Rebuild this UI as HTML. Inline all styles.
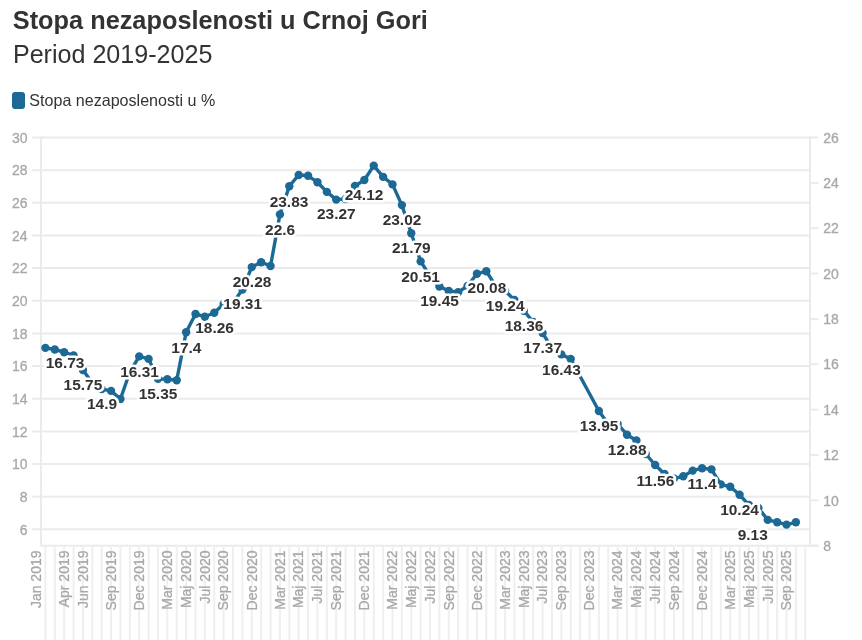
<!DOCTYPE html><html><head><meta charset="utf-8"><style>
html,body{margin:0;padding:0;background:#fff;width:862px;height:640px;overflow:hidden}
svg{display:block;font-family:"Liberation Sans",sans-serif;will-change:transform}
.ax{fill:#a8a8a8;font-size:14px;stroke:#a8a8a8;stroke-width:0.3px}
.vl{fill:#333333;font-size:14px;font-weight:bold;stroke:#fff;stroke-width:5px;paint-order:stroke fill;stroke-linejoin:round}
</style></head><body>
<svg width="862" height="640" viewBox="0 0 862 640">
<text x="12.8" y="28.8" font-size="26" font-weight="bold" fill="#333333" textLength="415" lengthAdjust="spacingAndGlyphs">Stopa nezaposlenosti u Crnoj Gori</text>
<text x="12.9" y="62.5" font-size="25" fill="#333333" textLength="199.5" lengthAdjust="spacingAndGlyphs">Period 2019-2025</text>
<rect x="12" y="92" width="13" height="17" rx="3" ry="3" fill="#1d6996"/>
<text x="29.3" y="105.8" font-size="16.5" fill="#333333" textLength="186" lengthAdjust="spacingAndGlyphs">Stopa nezaposlenosti u %</text>
<g stroke="#ebebeb" stroke-width="2"><line x1="32" y1="529.37" x2="810" y2="529.37"/><line x1="32" y1="496.72" x2="810" y2="496.72"/><line x1="32" y1="464.06" x2="810" y2="464.06"/><line x1="32" y1="431.40" x2="810" y2="431.40"/><line x1="32" y1="398.75" x2="810" y2="398.75"/><line x1="32" y1="366.09" x2="810" y2="366.09"/><line x1="32" y1="333.44" x2="810" y2="333.44"/><line x1="32" y1="300.78" x2="810" y2="300.78"/><line x1="32" y1="268.12" x2="810" y2="268.12"/><line x1="32" y1="235.47" x2="810" y2="235.47"/><line x1="32" y1="202.81" x2="810" y2="202.81"/><line x1="32" y1="170.16" x2="810" y2="170.16"/><line x1="32" y1="137.50" x2="810" y2="137.50"/><line x1="810" y1="545.70" x2="818.5" y2="545.70"/><line x1="810" y1="500.34" x2="818.5" y2="500.34"/><line x1="810" y1="454.99" x2="818.5" y2="454.99"/><line x1="810" y1="409.63" x2="818.5" y2="409.63"/><line x1="810" y1="364.28" x2="818.5" y2="364.28"/><line x1="810" y1="318.92" x2="818.5" y2="318.92"/><line x1="810" y1="273.57" x2="818.5" y2="273.57"/><line x1="810" y1="228.21" x2="818.5" y2="228.21"/><line x1="810" y1="182.86" x2="818.5" y2="182.86"/><line x1="810" y1="137.50" x2="818.5" y2="137.50"/><line x1="41.0" y1="136.5" x2="41.0" y2="545.7"/><line x1="810.0" y1="136.5" x2="810.0" y2="545.7"/><line x1="40.5" y1="545.7" x2="818.5" y2="545.7"/></g>
<g stroke="#efefef" stroke-width="2"><line x1="45.40" y1="546.7" x2="45.40" y2="640"/><line x1="54.78" y1="546.7" x2="54.78" y2="640"/><line x1="64.16" y1="546.7" x2="64.16" y2="640"/><line x1="73.54" y1="546.7" x2="73.54" y2="640"/><line x1="82.92" y1="546.7" x2="82.92" y2="640"/><line x1="92.31" y1="546.7" x2="92.31" y2="640"/><line x1="101.69" y1="546.7" x2="101.69" y2="640"/><line x1="111.07" y1="546.7" x2="111.07" y2="640"/><line x1="120.45" y1="546.7" x2="120.45" y2="640"/><line x1="129.83" y1="546.7" x2="129.83" y2="640"/><line x1="139.21" y1="546.7" x2="139.21" y2="640"/><line x1="148.59" y1="546.7" x2="148.59" y2="640"/><line x1="157.97" y1="546.7" x2="157.97" y2="640"/><line x1="167.35" y1="546.7" x2="167.35" y2="640"/><line x1="176.73" y1="546.7" x2="176.73" y2="640"/><line x1="186.12" y1="546.7" x2="186.12" y2="640"/><line x1="195.50" y1="546.7" x2="195.50" y2="640"/><line x1="204.88" y1="546.7" x2="204.88" y2="640"/><line x1="214.26" y1="546.7" x2="214.26" y2="640"/><line x1="223.64" y1="546.7" x2="223.64" y2="640"/><line x1="233.02" y1="546.7" x2="233.02" y2="640"/><line x1="242.40" y1="546.7" x2="242.40" y2="640"/><line x1="251.78" y1="546.7" x2="251.78" y2="640"/><line x1="261.16" y1="546.7" x2="261.16" y2="640"/><line x1="270.54" y1="546.7" x2="270.54" y2="640"/><line x1="279.93" y1="546.7" x2="279.93" y2="640"/><line x1="289.31" y1="546.7" x2="289.31" y2="640"/><line x1="298.69" y1="546.7" x2="298.69" y2="640"/><line x1="308.07" y1="546.7" x2="308.07" y2="640"/><line x1="317.45" y1="546.7" x2="317.45" y2="640"/><line x1="326.83" y1="546.7" x2="326.83" y2="640"/><line x1="336.21" y1="546.7" x2="336.21" y2="640"/><line x1="345.59" y1="546.7" x2="345.59" y2="640"/><line x1="354.97" y1="546.7" x2="354.97" y2="640"/><line x1="364.35" y1="546.7" x2="364.35" y2="640"/><line x1="373.74" y1="546.7" x2="373.74" y2="640"/><line x1="383.12" y1="546.7" x2="383.12" y2="640"/><line x1="392.50" y1="546.7" x2="392.50" y2="640"/><line x1="401.88" y1="546.7" x2="401.88" y2="640"/><line x1="411.26" y1="546.7" x2="411.26" y2="640"/><line x1="420.64" y1="546.7" x2="420.64" y2="640"/><line x1="430.02" y1="546.7" x2="430.02" y2="640"/><line x1="439.40" y1="546.7" x2="439.40" y2="640"/><line x1="448.78" y1="546.7" x2="448.78" y2="640"/><line x1="458.16" y1="546.7" x2="458.16" y2="640"/><line x1="467.54" y1="546.7" x2="467.54" y2="640"/><line x1="476.93" y1="546.7" x2="476.93" y2="640"/><line x1="486.31" y1="546.7" x2="486.31" y2="640"/><line x1="495.69" y1="546.7" x2="495.69" y2="640"/><line x1="505.07" y1="546.7" x2="505.07" y2="640"/><line x1="514.45" y1="546.7" x2="514.45" y2="640"/><line x1="523.83" y1="546.7" x2="523.83" y2="640"/><line x1="533.21" y1="546.7" x2="533.21" y2="640"/><line x1="542.59" y1="546.7" x2="542.59" y2="640"/><line x1="551.97" y1="546.7" x2="551.97" y2="640"/><line x1="561.36" y1="546.7" x2="561.36" y2="640"/><line x1="570.74" y1="546.7" x2="570.74" y2="640"/><line x1="580.12" y1="546.7" x2="580.12" y2="640"/><line x1="589.50" y1="546.7" x2="589.50" y2="640"/><line x1="598.88" y1="546.7" x2="598.88" y2="640"/><line x1="608.26" y1="546.7" x2="608.26" y2="640"/><line x1="617.64" y1="546.7" x2="617.64" y2="640"/><line x1="627.02" y1="546.7" x2="627.02" y2="640"/><line x1="636.40" y1="546.7" x2="636.40" y2="640"/><line x1="645.78" y1="546.7" x2="645.78" y2="640"/><line x1="655.16" y1="546.7" x2="655.16" y2="640"/><line x1="664.55" y1="546.7" x2="664.55" y2="640"/><line x1="673.93" y1="546.7" x2="673.93" y2="640"/><line x1="683.31" y1="546.7" x2="683.31" y2="640"/><line x1="692.69" y1="546.7" x2="692.69" y2="640"/><line x1="702.07" y1="546.7" x2="702.07" y2="640"/><line x1="711.45" y1="546.7" x2="711.45" y2="640"/><line x1="720.83" y1="546.7" x2="720.83" y2="640"/><line x1="730.21" y1="546.7" x2="730.21" y2="640"/><line x1="739.59" y1="546.7" x2="739.59" y2="640"/><line x1="748.98" y1="546.7" x2="748.98" y2="640"/><line x1="758.36" y1="546.7" x2="758.36" y2="640"/><line x1="767.74" y1="546.7" x2="767.74" y2="640"/><line x1="777.12" y1="546.7" x2="777.12" y2="640"/><line x1="786.50" y1="546.7" x2="786.50" y2="640"/><line x1="795.88" y1="546.7" x2="795.88" y2="640"/><line x1="805.26" y1="546.7" x2="805.26" y2="640"/></g>
<g class="ax"><text x="27.5" y="534.57" text-anchor="end">6</text><text x="27.5" y="501.92" text-anchor="end">8</text><text x="27.5" y="469.26" text-anchor="end">10</text><text x="27.5" y="436.60" text-anchor="end">12</text><text x="27.5" y="403.95" text-anchor="end">14</text><text x="27.5" y="371.29" text-anchor="end">16</text><text x="27.5" y="338.64" text-anchor="end">18</text><text x="27.5" y="305.98" text-anchor="end">20</text><text x="27.5" y="273.32" text-anchor="end">22</text><text x="27.5" y="240.67" text-anchor="end">24</text><text x="27.5" y="208.01" text-anchor="end">26</text><text x="27.5" y="175.36" text-anchor="end">28</text><text x="27.5" y="142.70" text-anchor="end">30</text><text x="823.3" y="550.90">8</text><text x="823.3" y="505.54">10</text><text x="823.3" y="460.19">12</text><text x="823.3" y="414.83">14</text><text x="823.3" y="369.48">16</text><text x="823.3" y="324.12">18</text><text x="823.3" y="278.77">20</text><text x="823.3" y="233.41">22</text><text x="823.3" y="188.06">24</text><text x="823.3" y="142.70">26</text><text transform="translate(40.80,550.5) rotate(-90)" text-anchor="end">Jan 2019</text><text transform="translate(68.94,550.5) rotate(-90)" text-anchor="end">Apr 2019</text><text transform="translate(87.71,550.5) rotate(-90)" text-anchor="end">Jun 2019</text><text transform="translate(115.85,550.5) rotate(-90)" text-anchor="end">Sep 2019</text><text transform="translate(143.99,550.5) rotate(-90)" text-anchor="end">Dec 2019</text><text transform="translate(172.13,550.5) rotate(-90)" text-anchor="end">Mar 2020</text><text transform="translate(190.90,550.5) rotate(-90)" text-anchor="end">Maj 2020</text><text transform="translate(209.66,550.5) rotate(-90)" text-anchor="end">Jul 2020</text><text transform="translate(228.42,550.5) rotate(-90)" text-anchor="end">Sep 2020</text><text transform="translate(256.56,550.5) rotate(-90)" text-anchor="end">Dec 2020</text><text transform="translate(284.71,550.5) rotate(-90)" text-anchor="end">Mar 2021</text><text transform="translate(303.47,550.5) rotate(-90)" text-anchor="end">Maj 2021</text><text transform="translate(322.23,550.5) rotate(-90)" text-anchor="end">Jul 2021</text><text transform="translate(340.99,550.5) rotate(-90)" text-anchor="end">Sep 2021</text><text transform="translate(369.13,550.5) rotate(-90)" text-anchor="end">Dec 2021</text><text transform="translate(397.28,550.5) rotate(-90)" text-anchor="end">Mar 2022</text><text transform="translate(416.04,550.5) rotate(-90)" text-anchor="end">Maj 2022</text><text transform="translate(434.80,550.5) rotate(-90)" text-anchor="end">Jul 2022</text><text transform="translate(453.56,550.5) rotate(-90)" text-anchor="end">Sep 2022</text><text transform="translate(481.71,550.5) rotate(-90)" text-anchor="end">Dec 2022</text><text transform="translate(509.85,550.5) rotate(-90)" text-anchor="end">Mar 2023</text><text transform="translate(528.61,550.5) rotate(-90)" text-anchor="end">Maj 2023</text><text transform="translate(547.37,550.5) rotate(-90)" text-anchor="end">Jul 2023</text><text transform="translate(566.14,550.5) rotate(-90)" text-anchor="end">Sep 2023</text><text transform="translate(594.28,550.5) rotate(-90)" text-anchor="end">Dec 2023</text><text transform="translate(622.42,550.5) rotate(-90)" text-anchor="end">Mar 2024</text><text transform="translate(641.18,550.5) rotate(-90)" text-anchor="end">Maj 2024</text><text transform="translate(659.95,550.5) rotate(-90)" text-anchor="end">Jul 2024</text><text transform="translate(678.71,550.5) rotate(-90)" text-anchor="end">Sep 2024</text><text transform="translate(706.85,550.5) rotate(-90)" text-anchor="end">Dec 2024</text><text transform="translate(734.99,550.5) rotate(-90)" text-anchor="end">Mar 2025</text><text transform="translate(753.76,550.5) rotate(-90)" text-anchor="end">Maj 2025</text><text transform="translate(772.52,550.5) rotate(-90)" text-anchor="end">Jul 2025</text><text transform="translate(791.28,550.5) rotate(-90)" text-anchor="end">Sep 2025</text></g>
<polyline fill="none" stroke="#1d6996" stroke-width="3.4" stroke-linejoin="round" stroke-linecap="round" points="45.40,347.90 54.78,349.50 64.16,352.20 73.54,355.50 82.92,370.00 92.31,383.00 101.69,389.10 111.07,390.90 120.45,399.00 129.83,372.00 139.21,356.40 148.59,358.90 157.97,378.90 167.35,379.30 176.73,380.20 186.12,332.30 195.50,314.00 204.88,316.70 214.26,312.80 223.64,304.00 233.02,303.00 242.40,289.50 251.78,267.10 261.16,262.20 270.54,266.00 279.93,214.40 289.31,186.20 298.69,175.00 308.07,175.80 317.45,182.20 326.83,191.90 336.21,199.60 345.59,199.00 354.97,186.00 364.35,180.00 373.74,165.60 383.12,176.90 392.50,184.40 401.88,205.10 411.26,233.20 420.64,261.40 430.02,276.00 439.40,286.50 448.78,290.90 458.16,292.20 467.54,286.00 476.93,273.80 486.31,271.20 495.69,286.00 505.07,290.75 514.45,300.00 523.83,310.70 533.21,322.00 542.59,333.10 551.97,348.00 561.36,354.40 570.74,359.00 598.88,411.00 608.26,424.00 617.64,424.00 627.02,434.70 636.40,440.50 645.78,454.00 655.16,465.00 664.55,474.00 673.93,478.50 683.31,476.30 692.69,470.60 702.07,468.20 711.45,469.40 720.83,484.40 730.21,486.80 739.59,494.80 748.98,505.00 758.36,508.00 767.74,519.90 777.12,522.20 786.50,524.60 795.88,522.30"/>
<g fill="#1d6996"><circle cx="45.40" cy="347.90" r="4.2"/><circle cx="54.78" cy="349.50" r="4.2"/><circle cx="64.16" cy="352.20" r="4.2"/><circle cx="73.54" cy="355.50" r="4.2"/><circle cx="82.92" cy="370.00" r="4.2"/><circle cx="92.31" cy="383.00" r="4.2"/><circle cx="101.69" cy="389.10" r="4.2"/><circle cx="111.07" cy="390.90" r="4.2"/><circle cx="120.45" cy="399.00" r="4.2"/><circle cx="129.83" cy="372.00" r="4.2"/><circle cx="139.21" cy="356.40" r="4.2"/><circle cx="148.59" cy="358.90" r="4.2"/><circle cx="157.97" cy="378.90" r="4.2"/><circle cx="167.35" cy="379.30" r="4.2"/><circle cx="176.73" cy="380.20" r="4.2"/><circle cx="186.12" cy="332.30" r="4.2"/><circle cx="195.50" cy="314.00" r="4.2"/><circle cx="204.88" cy="316.70" r="4.2"/><circle cx="214.26" cy="312.80" r="4.2"/><circle cx="223.64" cy="304.00" r="4.2"/><circle cx="233.02" cy="303.00" r="4.2"/><circle cx="242.40" cy="289.50" r="4.2"/><circle cx="251.78" cy="267.10" r="4.2"/><circle cx="261.16" cy="262.20" r="4.2"/><circle cx="270.54" cy="266.00" r="4.2"/><circle cx="279.93" cy="214.40" r="4.2"/><circle cx="289.31" cy="186.20" r="4.2"/><circle cx="298.69" cy="175.00" r="4.2"/><circle cx="308.07" cy="175.80" r="4.2"/><circle cx="317.45" cy="182.20" r="4.2"/><circle cx="326.83" cy="191.90" r="4.2"/><circle cx="336.21" cy="199.60" r="4.2"/><circle cx="345.59" cy="199.00" r="4.2"/><circle cx="354.97" cy="186.00" r="4.2"/><circle cx="364.35" cy="180.00" r="4.2"/><circle cx="373.74" cy="165.60" r="4.2"/><circle cx="383.12" cy="176.90" r="4.2"/><circle cx="392.50" cy="184.40" r="4.2"/><circle cx="401.88" cy="205.10" r="4.2"/><circle cx="411.26" cy="233.20" r="4.2"/><circle cx="420.64" cy="261.40" r="4.2"/><circle cx="430.02" cy="276.00" r="4.2"/><circle cx="439.40" cy="286.50" r="4.2"/><circle cx="448.78" cy="290.90" r="4.2"/><circle cx="458.16" cy="292.20" r="4.2"/><circle cx="467.54" cy="286.00" r="4.2"/><circle cx="476.93" cy="273.80" r="4.2"/><circle cx="486.31" cy="271.20" r="4.2"/><circle cx="495.69" cy="286.00" r="4.2"/><circle cx="505.07" cy="290.75" r="4.2"/><circle cx="514.45" cy="300.00" r="4.2"/><circle cx="523.83" cy="310.70" r="4.2"/><circle cx="533.21" cy="322.00" r="4.2"/><circle cx="542.59" cy="333.10" r="4.2"/><circle cx="551.97" cy="348.00" r="4.2"/><circle cx="561.36" cy="354.40" r="4.2"/><circle cx="570.74" cy="359.00" r="4.2"/><circle cx="598.88" cy="411.00" r="4.2"/><circle cx="608.26" cy="424.00" r="4.2"/><circle cx="617.64" cy="424.00" r="4.2"/><circle cx="627.02" cy="434.70" r="4.2"/><circle cx="636.40" cy="440.50" r="4.2"/><circle cx="645.78" cy="454.00" r="4.2"/><circle cx="655.16" cy="465.00" r="4.2"/><circle cx="664.55" cy="474.00" r="4.2"/><circle cx="673.93" cy="478.50" r="4.2"/><circle cx="683.31" cy="476.30" r="4.2"/><circle cx="692.69" cy="470.60" r="4.2"/><circle cx="702.07" cy="468.20" r="4.2"/><circle cx="711.45" cy="469.40" r="4.2"/><circle cx="720.83" cy="484.40" r="4.2"/><circle cx="730.21" cy="486.80" r="4.2"/><circle cx="739.59" cy="494.80" r="4.2"/><circle cx="748.98" cy="505.00" r="4.2"/><circle cx="758.36" cy="508.00" r="4.2"/><circle cx="767.74" cy="519.90" r="4.2"/><circle cx="777.12" cy="522.20" r="4.2"/><circle cx="786.50" cy="524.60" r="4.2"/><circle cx="795.88" cy="522.30" r="4.2"/></g>
<g class="vl"><text x="65.10" y="367.80" text-anchor="middle" textLength="38.71" lengthAdjust="spacingAndGlyphs">16.73</text><text x="82.90" y="389.70" text-anchor="middle" textLength="38.71" lengthAdjust="spacingAndGlyphs">15.75</text><text x="102.00" y="409.20" text-anchor="middle" textLength="30.11" lengthAdjust="spacingAndGlyphs">14.9</text><text x="139.50" y="376.60" text-anchor="middle" textLength="38.71" lengthAdjust="spacingAndGlyphs">16.31</text><text x="158.00" y="399.00" text-anchor="middle" textLength="38.71" lengthAdjust="spacingAndGlyphs">15.35</text><text x="186.40" y="352.90" text-anchor="middle" textLength="30.11" lengthAdjust="spacingAndGlyphs">17.4</text><text x="214.60" y="333.00" text-anchor="middle" textLength="38.71" lengthAdjust="spacingAndGlyphs">18.26</text><text x="242.70" y="308.80" text-anchor="middle" textLength="38.71" lengthAdjust="spacingAndGlyphs">19.31</text><text x="252.00" y="287.20" text-anchor="middle" textLength="38.71" lengthAdjust="spacingAndGlyphs">20.28</text><text x="280.10" y="234.70" text-anchor="middle" textLength="30.11" lengthAdjust="spacingAndGlyphs">22.6</text><text x="289.00" y="206.80" text-anchor="middle" textLength="38.71" lengthAdjust="spacingAndGlyphs">23.83</text><text x="336.30" y="218.80" text-anchor="middle" textLength="38.71" lengthAdjust="spacingAndGlyphs">23.27</text><text x="364.00" y="200.20" text-anchor="middle" textLength="38.71" lengthAdjust="spacingAndGlyphs">24.12</text><text x="402.00" y="225.20" text-anchor="middle" textLength="38.71" lengthAdjust="spacingAndGlyphs">23.02</text><text x="411.30" y="253.40" text-anchor="middle" textLength="38.71" lengthAdjust="spacingAndGlyphs">21.79</text><text x="420.60" y="281.60" text-anchor="middle" textLength="38.71" lengthAdjust="spacingAndGlyphs">20.51</text><text x="439.50" y="306.20" text-anchor="middle" textLength="38.71" lengthAdjust="spacingAndGlyphs">19.45</text><text x="486.90" y="292.50" text-anchor="middle" textLength="38.71" lengthAdjust="spacingAndGlyphs">20.08</text><text x="505.20" y="310.90" text-anchor="middle" textLength="38.71" lengthAdjust="spacingAndGlyphs">19.24</text><text x="524.00" y="331.00" text-anchor="middle" textLength="38.71" lengthAdjust="spacingAndGlyphs">18.36</text><text x="542.70" y="353.30" text-anchor="middle" textLength="38.71" lengthAdjust="spacingAndGlyphs">17.37</text><text x="561.40" y="374.60" text-anchor="middle" textLength="38.71" lengthAdjust="spacingAndGlyphs">16.43</text><text x="599.00" y="431.20" text-anchor="middle" textLength="38.71" lengthAdjust="spacingAndGlyphs">13.95</text><text x="627.20" y="455.00" text-anchor="middle" textLength="38.71" lengthAdjust="spacingAndGlyphs">12.88</text><text x="655.40" y="485.60" text-anchor="middle" textLength="37.86" lengthAdjust="spacingAndGlyphs">11.56</text><text x="702.00" y="489.20" text-anchor="middle" textLength="29.25" lengthAdjust="spacingAndGlyphs">11.4</text><text x="739.50" y="514.80" text-anchor="middle" textLength="38.71" lengthAdjust="spacingAndGlyphs">10.24</text><text x="752.70" y="539.90" text-anchor="middle" textLength="30.11" lengthAdjust="spacingAndGlyphs">9.13</text></g>
</svg></body></html>
